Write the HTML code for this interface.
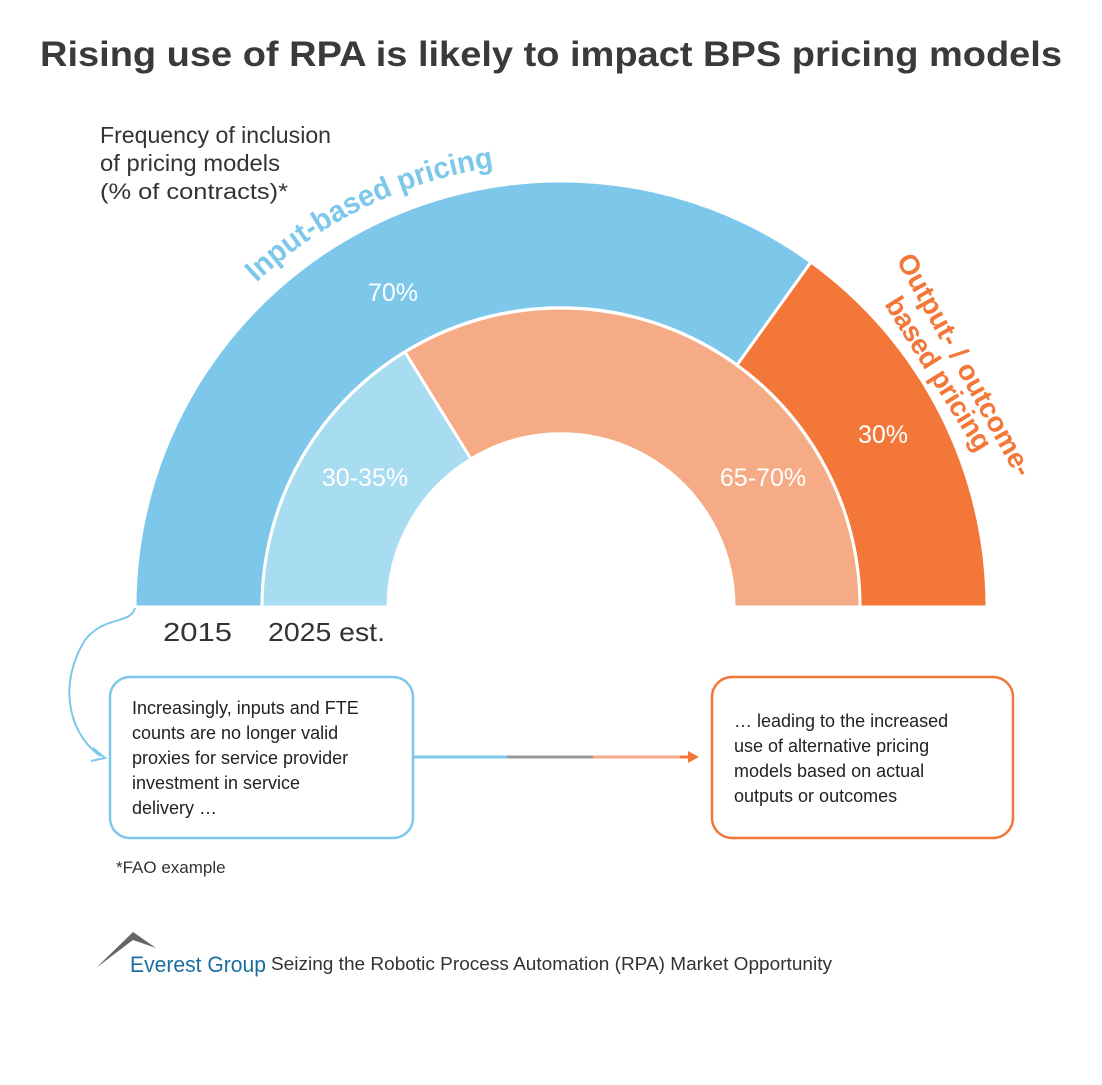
<!DOCTYPE html>
<html><head><meta charset="utf-8"><style>
body{margin:0;background:#fff;width:1102px;height:1080px;overflow:hidden;font-family:"Liberation Sans",sans-serif}
</style></head><body>
<svg width="1102" height="1080" viewBox="0 0 1102 1080" xmlns="http://www.w3.org/2000/svg" font-family="Liberation Sans, sans-serif">
<text x="40" y="66" font-size="35" font-weight="bold" fill="#3a3a3a" textLength="1022" lengthAdjust="spacingAndGlyphs">Rising use of RPA is likely to impact BPS pricing models</text>
<text x="100" y="143" font-size="23" fill="#333" textLength="231" lengthAdjust="spacingAndGlyphs">Frequency of inclusion</text>
<text x="100" y="171" font-size="23" fill="#333" textLength="180" lengthAdjust="spacingAndGlyphs">of pricing models</text>
<text x="100" y="199" font-size="22" fill="#333" textLength="188" lengthAdjust="spacingAndGlyphs">(% of contracts)*</text>
<path d="M135 607 A426 426 0 0 1 811 262 L737 365 A299 299 0 0 0 262 607 Z" fill="#7DC8EA" stroke="#fff" stroke-width="3"/>
<path d="M811 262 A426 426 0 0 1 987 607 L860 607 A299 299 0 0 0 737 365 Z" fill="#F27738" stroke="#fff" stroke-width="3"/>
<path d="M262 607 A299 299 0 0 1 405 352 L471 459 A173 173 0 0 0 388 607 Z" fill="#A8DCF0" stroke="#fff" stroke-width="3"/>
<path d="M405 352 A299 299 0 0 1 860 607 L734 607 A173 173 0 0 0 471 459 Z" fill="#F5AC86" stroke="#fff" stroke-width="3"/>
<text x="393" y="301" text-anchor="middle" font-size="25" fill="#fff">70%</text>
<text x="883" y="443" text-anchor="middle" font-size="25" fill="#fff">30%</text>
<text x="365" y="486" text-anchor="middle" font-size="25" fill="#fff">30-35%</text>
<text x="763" y="486" text-anchor="middle" font-size="25" fill="#fff">65-70%</text>
<defs><path id="arc" d="M116 607 A445 445 0 0 1 561 162"/></defs>
<text font-size="30" font-weight="bold" fill="#7DC8EA"><textPath href="#arc" startOffset="52%" textLength="268" lengthAdjust="spacingAndGlyphs">Input-based pricing</textPath></text>
<text transform="translate(896,260) rotate(61)" font-size="28" font-weight="bold" fill="#F27738" textLength="250">Output- / outcome-</text>
<text transform="translate(884,304) rotate(58)" font-size="28" font-weight="bold" fill="#F27738" textLength="176">based pricing</text>
<text x="163" y="641" font-size="26" fill="#333" textLength="69" lengthAdjust="spacingAndGlyphs">2015</text>
<text x="268" y="641" font-size="26" fill="#333" textLength="117" lengthAdjust="spacingAndGlyphs">2025 est.</text>
<path d="M135 608 C130 625 105 615 85 640 C60 680 65 730 100 756" fill="none" stroke="#7DC8EA" stroke-width="2"/>
<path d="M93 748 L105 758 L91 761" fill="none" stroke="#7DC8EA" stroke-width="2"/>
<rect x="110" y="677" width="303" height="161" rx="20" fill="#fff" stroke="#7DC8EA" stroke-width="2.5"/>
<rect x="712" y="677" width="301" height="161" rx="20" fill="#fff" stroke="#F27738" stroke-width="2.5"/>
<g font-size="18" fill="#222">
<text x="132" y="714">Increasingly, inputs and FTE</text>
<text x="132" y="739">counts are no longer  valid</text>
<text x="132" y="764">proxies for service provider</text>
<text x="132" y="789">investment in service</text>
<text x="132" y="814">delivery …</text>
<text x="734" y="727">… leading to the increased</text>
<text x="734" y="752">use of alternative pricing</text>
<text x="734" y="777">models based on actual</text>
<text x="734" y="802">outputs or outcomes</text>
</g>
<line x1="413" y1="757" x2="507" y2="757" stroke="#7DC8EA" stroke-width="3"/>
<line x1="507" y1="757" x2="593" y2="757" stroke="#999" stroke-width="3"/>
<line x1="593" y1="757" x2="680" y2="757" stroke="#F5AC86" stroke-width="3"/>
<line x1="680" y1="757" x2="690" y2="757" stroke="#F27738" stroke-width="3"/>
<path d="M688 751 L699 757 L688 763 Z" fill="#F27738"/>
<text x="116" y="873" font-size="17" fill="#333">*FAO example</text>
<path d="M96 968 L133 932 L156 948 L133 940 Z" fill="#666"/>
<text x="130" y="972" font-size="22" fill="#1a6fa0" textLength="136" lengthAdjust="spacingAndGlyphs">Everest Group</text>
<text x="271" y="970" font-size="18" fill="#333" textLength="561" lengthAdjust="spacingAndGlyphs">Seizing the Robotic Process Automation (RPA) Market Opportunity</text>
</svg>
</body></html>
